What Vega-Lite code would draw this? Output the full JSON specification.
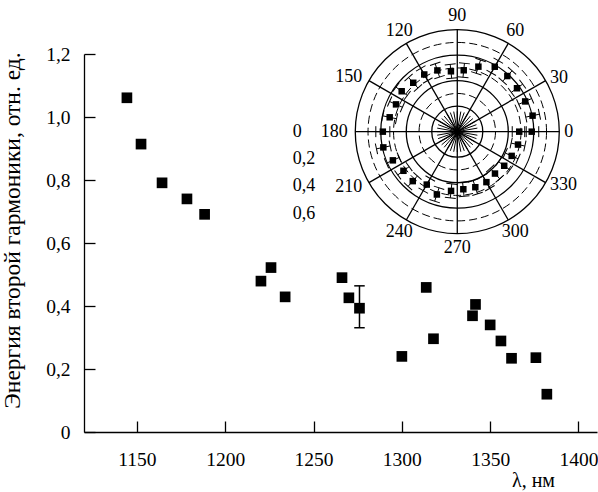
{
  "$schema": "https://vega.github.io/schema/vega-lite/v6.json",
  "width": 513,
  "height": 378,
  "autosize": "none",
  "padding": {"left": 84, "top": 54, "right": 1, "bottom": 60},
  "config": {
    "view": {"stroke": null},
    "font": "Liberation Serif",
    "axis": {
      "domainColor": "black",
      "domainWidth": 1.3,
      "tickColor": "black",
      "tickWidth": 1.3,
      "grid": false,
      "labelFont": "Liberation Serif",
      "labelFontSize": 19.5,
      "labelColor": "black",
      "titleFont": "Liberation Serif",
      "titleFontWeight": "normal",
      "titleColor": "black"
    },
    "text": {"font": "Liberation Serif", "fontSize": 18, "color": "black"}
  },
  "datasets": {
    "energy": [
      {"wl": 1144.3, "e": 1.061},
      {"wl": 1152.3, "e": 0.914},
      {"wl": 1164.2, "e": 0.791},
      {"wl": 1178.3, "e": 0.740},
      {"wl": 1188.3, "e": 0.691},
      {"wl": 1220.2, "e": 0.479},
      {"wl": 1225.9, "e": 0.522},
      {"wl": 1233.9, "e": 0.429},
      {"wl": 1266.1, "e": 0.490},
      {"wl": 1270.0, "e": 0.426},
      {"wl": 1276.0, "e": 0.393, "lo": 0.331, "hi": 0.464},
      {"wl": 1300.0, "e": 0.240},
      {"wl": 1313.8, "e": 0.459},
      {"wl": 1317.9, "e": 0.296},
      {"wl": 1340.0, "e": 0.369},
      {"wl": 1341.7, "e": 0.405},
      {"wl": 1350.0, "e": 0.340},
      {"wl": 1356.1, "e": 0.289},
      {"wl": 1362.1, "e": 0.234},
      {"wl": 1375.9, "e": 0.236},
      {"wl": 1382.1, "e": 0.120}
    ],
    "polar": [
      {"a": 0, "r": 0.486, "err": 0.055},
      {"a": 0, "r": 0.584, "err": 0.055},
      {"a": 12, "r": 0.604, "err": 0.055},
      {"a": 24, "r": 0.583, "err": 0.055},
      {"a": 36, "r": 0.579, "err": 0.055},
      {"a": 48, "r": 0.587, "err": 0.055},
      {"a": 60, "r": 0.588, "err": 0.055},
      {"a": 72, "r": 0.536, "err": 0.055},
      {"a": 84, "r": 0.484, "err": 0.055},
      {"a": 96, "r": 0.476, "err": 0.055},
      {"a": 108, "r": 0.505, "err": 0.055},
      {"a": 120, "r": 0.518, "err": 0.055},
      {"a": 132, "r": 0.516, "err": 0.055},
      {"a": 144, "r": 0.539, "err": 0.055},
      {"a": 156, "r": 0.526, "err": 0.055},
      {"a": 168, "r": 0.542, "err": 0.055},
      {"a": 180, "r": 0.584, "err": 0.055},
      {"a": 192, "r": 0.593, "err": 0.055},
      {"a": 204, "r": 0.553, "err": 0.055},
      {"a": 216, "r": 0.522, "err": 0.055},
      {"a": 228, "r": 0.522, "err": 0.055},
      {"a": 240, "r": 0.479, "err": 0.055},
      {"a": 252, "r": 0.518, "err": 0.055},
      {"a": 264, "r": 0.467, "err": 0.055},
      {"a": 276, "r": 0.454, "err": 0.055},
      {"a": 288, "r": 0.458, "err": 0.055},
      {"a": 300, "r": 0.457, "err": 0.055},
      {"a": 312, "r": 0.442, "err": 0.055},
      {"a": 324, "r": 0.455, "err": 0.055},
      {"a": 336, "r": 0.467, "err": 0.055},
      {"a": 348, "r": 0.487, "err": 0.055}
    ],
    "rings": [{"r": 0.2}, {"r": 0.4}, {"r": 0.6}, {"r": 0.8}],
    "minorRings": [{"r": 0.3}, {"r": 0.5}, {"r": 0.7}],
    "spokes": [
      {"a": 0}, {"a": 30}, {"a": 60}, {"a": 90}, {"a": 120}, {"a": 150},
      {"a": 180}, {"a": 210}, {"a": 240}, {"a": 270}, {"a": 300}, {"a": 330}
    ],
    "star": [
      {"a": 0}, {"a": 10}, {"a": 20}, {"a": 30}, {"a": 40}, {"a": 50},
      {"a": 60}, {"a": 70}, {"a": 80}, {"a": 90}, {"a": 100}, {"a": 110},
      {"a": 120}, {"a": 130}, {"a": 140}, {"a": 150}, {"a": 160}, {"a": 170}
    ],
    "radialLabels": [
      {"v": 0, "label": "0"},
      {"v": 0.2, "label": "0,2"},
      {"v": 0.4, "label": "0,4"},
      {"v": 0.6, "label": "0,6"}
    ]
  },
  "resolve": {"scale": {"x": "independent", "y": "independent"}},
  "layer": [
    {
      "data": {"name": "energy"},
      "layer": [
        {
          "transform": [{"filter": "isValid(datum.lo)"}],
          "mark": {"type": "rule", "color": "black", "strokeWidth": 1.5},
          "encoding": {
            "x": {"field": "wl", "type": "quantitative"},
            "y": {"field": "lo", "type": "quantitative"},
            "y2": {"field": "hi"}
          }
        },
        {
          "transform": [{"filter": "isValid(datum.lo)"}],
          "mark": {"type": "point", "shape": "stroke", "size": 110, "color": "black", "strokeWidth": 1.5, "opacity": 1},
          "encoding": {
            "x": {"field": "wl", "type": "quantitative"},
            "y": {"field": "lo", "type": "quantitative"}
          }
        },
        {
          "transform": [{"filter": "isValid(datum.hi)"}],
          "mark": {"type": "point", "shape": "stroke", "size": 110, "color": "black", "strokeWidth": 1.5, "opacity": 1},
          "encoding": {
            "x": {"field": "wl", "type": "quantitative"},
            "y": {"field": "hi", "type": "quantitative"}
          }
        },
        {
          "mark": {"type": "point", "shape": "square", "filled": true, "size": 114, "color": "black", "opacity": 1},
          "encoding": {
            "x": {
              "field": "wl",
              "type": "quantitative",
              "scale": {"domain": [1120, 1410.5], "nice": false, "zero": false},
              "axis": {
                "values": [1150, 1200, 1250, 1300, 1350, 1400],
                "format": "d",
                "title": "λ, нм",
                "titleFontSize": 20,
                "tickSize": -11,
                "labelPadding": 29,
                "titleX": 449,
                "titleY": 54,
                "titleAlign": "center",
                "titleBaseline": "alphabetic"
              }
            },
            "y": {
              "field": "e",
              "type": "quantitative",
              "scale": {"domain": [0, 1.2], "nice": false, "zero": false},
              "axis": {
                "values": [0, 0.2, 0.4, 0.6, 0.8, 1.0, 1.2],
                "labelExpr": "datum.value == 0 ? '0' : replace(format(datum.value, '.1f'), '.', ',')",
                "title": "Энергия второй гармоники, отн. ед.",
                "titleFontSize": 23.5,
                "tickSize": -11,
                "labelPadding": 25,
                "titleX": -65,
                "titleY": 176,
                "titleAngle": 270,
                "titleAlign": "center",
                "titleBaseline": "alphabetic"
              }
            }
          }
        }
      ]
    },
    {
      "data": {"name": "polar"},
      "transform": [
        {"calculate": "datum.a * PI / 180", "as": "t"},
        {"calculate": "(datum.r - datum.err) * cos(datum.t)", "as": "x1"},
        {"calculate": "(datum.r - datum.err) * sin(datum.t)", "as": "y1"},
        {"calculate": "(datum.r + datum.err) * cos(datum.t)", "as": "x2"},
        {"calculate": "(datum.r + datum.err) * sin(datum.t)", "as": "y2"},
        {"calculate": "datum.r * cos(datum.t)", "as": "px"},
        {"calculate": "datum.r * sin(datum.t)", "as": "py"}
      ],
      "layer": [
        {
          "mark": {"type": "rule", "color": "black", "strokeWidth": 1},
          "encoding": {
            "x": {"field": "x1", "type": "quantitative", "scale": {"domain": [-2.928, 1.096], "nice": false, "zero": false}, "axis": null},
            "y": {"field": "y1", "type": "quantitative", "scale": {"domain": [-2.355, 0.609], "nice": false, "zero": false}, "axis": null},
            "x2": {"field": "x2"},
            "y2": {"field": "y2"}
          }
        },
        {
          "mark": {"type": "point", "shape": "stroke", "size": 120, "color": "black", "strokeWidth": 1, "opacity": 1},
          "encoding": {
            "x": {"field": "x1", "type": "quantitative", "axis": null},
            "y": {"field": "y1", "type": "quantitative", "axis": null},
            "angle": {"field": "a", "type": "quantitative", "scale": {"domain": [0, 360], "range": [90, -270]}}
          }
        },
        {
          "mark": {"type": "point", "shape": "stroke", "size": 120, "color": "black", "strokeWidth": 1, "opacity": 1},
          "encoding": {
            "x": {"field": "x2", "type": "quantitative", "axis": null},
            "y": {"field": "y2", "type": "quantitative", "axis": null},
            "angle": {"field": "a", "type": "quantitative", "scale": {"domain": [0, 360], "range": [90, -270]}}
          }
        },
        {
          "mark": {"type": "point", "shape": "square", "filled": true, "size": 42, "color": "black", "opacity": 1},
          "encoding": {
            "x": {"field": "px", "type": "quantitative", "axis": null},
            "y": {"field": "py", "type": "quantitative", "axis": null}
          }
        },
        {
          "data": {"name": "minorRings"},
          "transform": [{"calculate": "0", "as": "c"}],
          "mark": {"type": "point", "shape": "circle", "filled": false, "color": "black", "strokeWidth": 1, "strokeDash": [8, 4], "opacity": 1},
          "encoding": {
            "x": {"field": "c", "type": "quantitative", "axis": null},
            "y": {"field": "c", "type": "quantitative", "axis": null},
            "size": {"field": "r", "type": "quantitative", "scale": {"type": "pow", "exponent": 2, "domain": [0, 0.8], "range": [0, 41616], "nice": false}, "legend": null}
          }
        },
        {
          "data": {"name": "rings"},
          "transform": [{"calculate": "0", "as": "c"}],
          "mark": {"type": "point", "shape": "circle", "filled": false, "color": "black", "strokeWidth": 1.3, "opacity": 1},
          "encoding": {
            "x": {"field": "c", "type": "quantitative", "axis": null},
            "y": {"field": "c", "type": "quantitative", "axis": null},
            "size": {"field": "r", "type": "quantitative", "scale": {"type": "pow", "exponent": 2, "domain": [0, 0.8], "range": [0, 41616], "nice": false}, "legend": null}
          }
        },
        {
          "data": {"name": "spokes"},
          "transform": [
            {"filter": "datum.a < 180"},
            {"calculate": "0.8 * cos(datum.a * PI / 180)", "as": "ex"},
            {"calculate": "0.8 * sin(datum.a * PI / 180)", "as": "ey"},
            {"calculate": "-datum.ex", "as": "sx"},
            {"calculate": "-datum.ey", "as": "sy"}
          ],
          "mark": {"type": "rule", "color": "black", "strokeWidth": 1.3},
          "encoding": {
            "x": {"field": "sx", "type": "quantitative", "axis": null},
            "y": {"field": "sy", "type": "quantitative", "axis": null},
            "x2": {"field": "ex"},
            "y2": {"field": "ey"}
          }
        },
        {
          "data": {"name": "star"},
          "transform": [
            {"calculate": "0.16 * cos(datum.a * PI / 180)", "as": "ex"},
            {"calculate": "0.16 * sin(datum.a * PI / 180)", "as": "ey"},
            {"calculate": "-datum.ex", "as": "sx"},
            {"calculate": "-datum.ey", "as": "sy"}
          ],
          "mark": {"type": "rule", "color": "black", "strokeWidth": 1},
          "encoding": {
            "x": {"field": "sx", "type": "quantitative", "axis": null},
            "y": {"field": "sy", "type": "quantitative", "axis": null},
            "x2": {"field": "ex"},
            "y2": {"field": "ey"}
          }
        },
        {
          "data": {"name": "spokes"},
          "transform": [
            {"filter": "cos(datum.a * PI / 180) > 0.7"},
            {"calculate": "0.84 * cos(datum.a * PI / 180)", "as": "lx"},
            {"calculate": "0.84 * sin(datum.a * PI / 180)", "as": "ly"}
          ],
          "mark": {"type": "text", "align": "left", "baseline": "middle"},
          "encoding": {
            "x": {"field": "lx", "type": "quantitative", "axis": null},
            "y": {"field": "ly", "type": "quantitative", "axis": null},
            "text": {"field": "a", "type": "quantitative"}
          }
        },
        {
          "data": {"name": "spokes"},
          "transform": [
            {"filter": "cos(datum.a * PI / 180) < -0.7"},
            {"calculate": "0.86 * cos(datum.a * PI / 180)", "as": "lx"},
            {"calculate": "0.86 * sin(datum.a * PI / 180)", "as": "ly"}
          ],
          "mark": {"type": "text", "align": "right", "baseline": "middle"},
          "encoding": {
            "x": {"field": "lx", "type": "quantitative", "axis": null},
            "y": {"field": "ly", "type": "quantitative", "axis": null},
            "text": {"field": "a", "type": "quantitative"}
          }
        },
        {
          "data": {"name": "spokes"},
          "transform": [
            {"filter": "abs(cos(datum.a * PI / 180)) <= 0.7"},
            {"calculate": "0.91 * cos(datum.a * PI / 180)", "as": "lx"},
            {"calculate": "0.91 * sin(datum.a * PI / 180)", "as": "ly"}
          ],
          "mark": {"type": "text", "align": "center", "baseline": "middle"},
          "encoding": {
            "x": {"field": "lx", "type": "quantitative", "axis": null},
            "y": {"field": "ly", "type": "quantitative", "axis": null},
            "text": {"field": "a", "type": "quantitative"}
          }
        },
        {
          "data": {"name": "radialLabels"},
          "transform": [
            {"calculate": "-1.29", "as": "lx"},
            {"calculate": "-1.07 * datum.v", "as": "ly"}
          ],
          "mark": {"type": "text", "align": "left", "baseline": "middle"},
          "encoding": {
            "x": {"field": "lx", "type": "quantitative", "axis": null},
            "y": {"field": "ly", "type": "quantitative", "axis": null},
            "text": {"field": "label"}
          }
        }
      ]
    }
  ]
}
